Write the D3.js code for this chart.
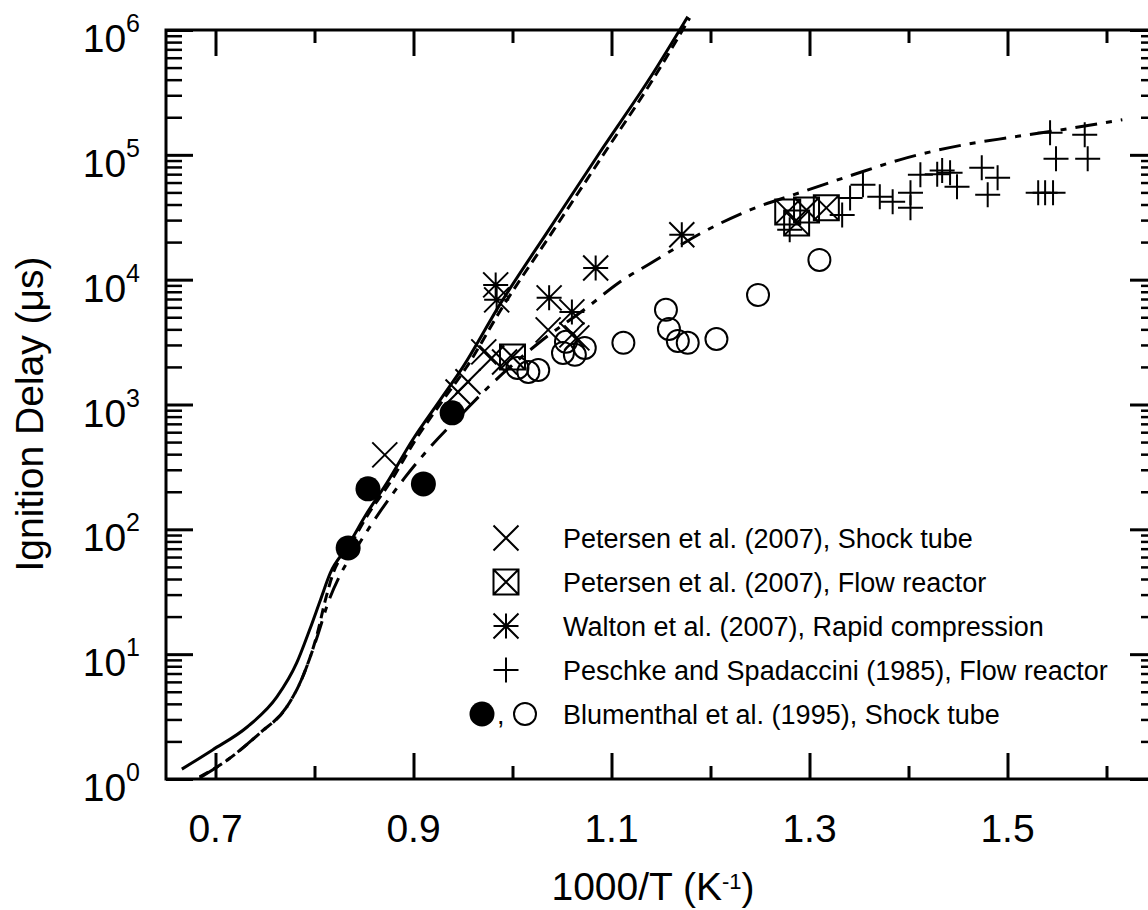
<!DOCTYPE html>
<html>
<head>
<meta charset="utf-8">
<title>Ignition Delay</title>
<style>
  body, html { margin: 0; padding: 0; background: #fff; }
  svg { display: block; }
  text { font-family: 'Liberation Sans', Arial, sans-serif; fill: #000; }
</style>
</head>
<body>
<svg id="svg" width="1148" height="910"></svg>

<script src="https://cdn.jsdelivr.net/npm/d3@7"></script>
<script>
  // model curves: [1000/T, ignition delay in us]
  const solidCurve = [
    [0.666, 1.20], [0.697, 1.71], [0.732, 2.61], [0.762, 4.54], [0.782, 8.50],
    [0.795, 15.6], [0.806, 27.2], [0.816, 44.8], [0.833, 72.3], [0.853, 135],
    [0.873, 235], [0.899, 520], [0.927, 1090], [0.950, 2000], [0.987, 6280],
    [1.038, 26000], [1.088, 104000], [1.139, 414000], [1.177, 1280000]
  ]
  const dashedCurve = [
    [0.684, 1.04], [0.712, 1.42], [0.745, 2.34], [0.772, 3.78], [0.788, 6.56],
    [0.803, 14.8], [0.811, 27.2], [0.819, 44.8], [0.835, 72.3], [0.855, 135],
    [0.876, 235], [0.902, 520], [0.930, 1090], [0.953, 1960], [0.990, 6050],
    [1.041, 24600], [1.091, 98200], [1.141, 392000], [1.179, 1250000]
  ]
  const dashDotCurve = [
    [0.684, 1.02], [0.712, 1.42], [0.745, 2.34], [0.772, 3.78], [0.788, 6.56],
    [0.803, 14.0], [0.814, 26.2], [0.826, 43.2], [0.843, 72.3], [0.866, 138],
    [0.891, 258], [0.917, 457], [0.950, 857], [0.980, 1490], [1.028, 3180],
    [1.076, 6050], [1.107, 9420], [1.142, 13900], [1.191, 23700], [1.240, 36200],
    [1.290, 49700], [1.344, 69200], [1.391, 91200], [1.455, 120000],
    [1.506, 139000], [1.553, 158000], [1.616, 191000]
  ]

  // experiments
  const petersenShock = [
    [0.871, 395], [0.945, 1260], [0.955, 1520], [0.971, 2640], [0.979, 2360],
    [0.992, 2190], [1.036, 3960], [1.060, 3610], [1.065, 3420]
  ]
  const petersenFlow = [
    [1.000, 2400], [1.278, 34900], [1.287, 28500], [1.297, 36200], [1.317, 37600]
  ]
  const waltonRcm = [
    [0.983, 9080], [0.984, 6890], [1.037, 7150], [1.060, 5520], [1.084, 12400],
    [1.171, 22900]
  ]
  const peschkeFlow = [
    [1.280, 25100], [1.333, 33000], [1.341, 45200], [1.354, 57500], [1.371, 46100],
    [1.384, 42000], [1.402, 49600], [1.402, 37600], [1.412, 69100], [1.429, 70000],
    [1.434, 75000], [1.442, 72000], [1.449, 55400], [1.474, 78700], [1.490, 65400],
    [1.480, 47800], [1.531, 49600], [1.538, 49600], [1.546, 49600], [1.543, 150000],
    [1.549, 92900], [1.578, 145000], [1.581, 92900]
  ]
  const blumenthalFilled = [
    [0.834, 71], [0.854, 211], [0.910, 231], [0.939, 857]
  ]
  const blumenthalOpen = [
    [1.005, 1960], [1.016, 1820], [1.026, 1890], [1.051, 2590], [1.063, 2500],
    [1.073, 2840], [1.054, 3180], [1.112, 3120], [1.155, 5730], [1.158, 4030],
    [1.167, 3230], [1.177, 3120], [1.206, 3350], [1.248, 7550], [1.310, 14400]
  ]

  const xMajor = [0.7, 0.9, 1.1, 1.3, 1.5]
  const xMinor = [0.8, 1.0, 1.2, 1.4, 1.6]
  const yDecades = [0, 1, 2, 3, 4, 5, 6]

  const legendLabels = [
    'Petersen et al. (2007), Shock tube',
    'Petersen et al. (2007), Flow reactor',
    'Walton et al. (2007), Rapid compression',
    'Peschke and Spadaccini (1985), Flow reactor',
    'Blumenthal et al. (1995), Shock tube'
  ]

  const svg = d3.select('#svg')

  const xScale = d3.scaleLinear().domain([0.65, 1.65]).range([166, 1156])
  const yScale = d3.scaleLog().domain([1, 1e6]).range([779, 30])

  const yMinor = []
  yDecades.slice(0, -1).forEach(e => {
    for (let k = 2; k <= 9; k++) yMinor.push(k * Math.pow(10, e))
  })

  // ticks, all pointing inward
  function tickAxis(axis, pos, vals, size, transform) {
    svg.append('g')
      .attr('transform', transform)
      .call(axis.tickValues(vals).tickSize(size).tickSizeOuter(0).tickFormat(''))
      .call(g => g.select('.domain').remove())
      .call(g => g.selectAll('line').attr('stroke', '#000').attr('stroke-width', pos))
  }
  const yMajorVals = yDecades.map(e => Math.pow(10, e))
  tickAxis(d3.axisLeft(yScale), 3, yMajorVals, -27, 'translate(166,0)')
  tickAxis(d3.axisLeft(yScale), 2.5, yMinor, -16, 'translate(166,0)')
  tickAxis(d3.axisRight(yScale), 3, yMajorVals, -27, 'translate(1157,0)')
  tickAxis(d3.axisRight(yScale), 2.5, yMinor, -16, 'translate(1157,0)')
  tickAxis(d3.axisBottom(xScale), 3, xMajor, -26, 'translate(0,779)')
  tickAxis(d3.axisBottom(xScale), 3, xMinor, -13, 'translate(0,779)')
  tickAxis(d3.axisTop(xScale), 3, xMajor, -26, 'translate(0,30)')
  tickAxis(d3.axisTop(xScale), 3, xMinor, -13, 'translate(0,30)')

  // frame
  svg.append('rect')
    .attr('x', 166).attr('y', 30)
    .attr('width', 1157 - 166).attr('height', 779 - 30)
    .attr('fill', 'none').attr('stroke', '#000').attr('stroke-width', 3)

  // tick labels
  svg.selectAll('.xlab')
    .data(xMajor)
    .enter().append('text')
    .attr('x', d => xScale(d))
    .attr('y', 842)
    .attr('text-anchor', 'middle')
    .attr('font-size', 39)
    .text(d => d3.format('.1f')(d))

  const ylab = svg.selectAll('.ylab')
    .data(yDecades)
    .enter().append('text')
    .attr('x', 140)
    .attr('y', d => yScale(Math.pow(10, d)) + 22)
    .attr('text-anchor', 'end')
    .attr('font-size', 39)
  ylab.append('tspan').text('10')
  ylab.append('tspan').attr('dy', -20).attr('font-size', 25).text(d => d)

  // axis titles
  const xt = svg.append('text')
    .attr('x', 653).attr('y', 900)
    .attr('text-anchor', 'middle')
    .attr('font-size', 39)
  xt.append('tspan').text('1000/T (K')
  xt.append('tspan').attr('dy', -11).attr('font-size', 22).text('-1')
  xt.append('tspan').attr('dy', 11).text(')')

  svg.append('text')
    .attr('transform', 'translate(43,414) rotate(-90)')
    .attr('text-anchor', 'middle')
    .attr('font-size', 39)
    .text('Ignition Delay (\u03bcs)')

  // model lines
  const linegen = d3.line()
    .x(d => xScale(d[0]))
    .y(d => yScale(d[1]))
    .curve(d3.curveMonotoneX)

  function drawLine(data, dash) {
    svg.append('path')
      .attr('d', linegen(data))
      .attr('fill', 'none')
      .attr('stroke', '#000')
      .attr('stroke-width', 3)
      .attr('stroke-dasharray', dash)
  }
  drawLine(solidCurve, null)
  drawLine(dashedCurve, '10,6')
  drawLine(dashDotCurve, '22,9,6,9')

  // marker shapes
  const s = 12.5
  const shapes = {
    cross: `M${-s},${-s}L${s},${s}M${-s},${s}L${s},${-s}`,
    plus: `M${-s},0L${s},0M0,${-s}L0,${s}`,
    star: `M${-s},${-s}L${s},${s}M${-s},${s}L${s},${-s}M${-s},0L${s},0M0,${-s}L0,${s}`,
    box: `M${-s},${-s}H${s}V${s}H${-s}ZM${-s},${-s}L${s},${s}M${-s},${s}L${s},${-s}`
  }

  function drawMarks(data, shape) {
    svg.append('g').selectAll('path')
      .data(data)
      .enter().append('path')
      .attr('transform', d => `translate(${xScale(d[0])},${yScale(d[1])})`)
      .attr('d', shapes[shape])
      .attr('fill', 'none')
      .attr('stroke', '#000')
      .attr('stroke-width', 2)
  }
  drawMarks(peschkeFlow, 'plus')
  drawMarks(petersenFlow, 'box')
  drawMarks(petersenShock, 'cross')
  drawMarks(waltonRcm, 'star')

  svg.append('g').selectAll('circle')
    .data(blumenthalOpen)
    .enter().append('circle')
    .attr('cx', d => xScale(d[0]))
    .attr('cy', d => yScale(d[1]))
    .attr('r', 11)
    .attr('fill', 'none')
    .attr('stroke', '#000')
    .attr('stroke-width', 2)

  svg.append('g').selectAll('circle')
    .data(blumenthalFilled)
    .enter().append('circle')
    .attr('cx', d => xScale(d[0]))
    .attr('cy', d => yScale(d[1]))
    .attr('r', 12.5)
    .attr('fill', '#000')

  // legend
  const legY = d3.scaleLinear().domain([0, 4]).range([538, 714])
  const legShapes = ['cross', 'box', 'star', 'plus']
  legShapes.forEach((sh, i) => {
    svg.append('path')
      .attr('transform', `translate(506,${legY(i)})`)
      .attr('d', shapes[sh])
      .attr('fill', 'none')
      .attr('stroke', '#000')
      .attr('stroke-width', 2)
  })
  svg.append('circle').attr('cx', 482).attr('cy', legY(4)).attr('r', 12.5).attr('fill', '#000')
  svg.append('text').attr('x', 497).attr('y', legY(4) + 10).attr('font-size', 27).text(',')
  svg.append('circle').attr('cx', 525).attr('cy', legY(4)).attr('r', 11)
    .attr('fill', 'none').attr('stroke', '#000').attr('stroke-width', 2)

  svg.selectAll('.leg')
    .data(legendLabels)
    .enter().append('text')
    .attr('x', 563)
    .attr('y', (d, i) => legY(i) + 10)
    .attr('font-size', 27)
    .text(d => d)
</script>
</body>
</html>
